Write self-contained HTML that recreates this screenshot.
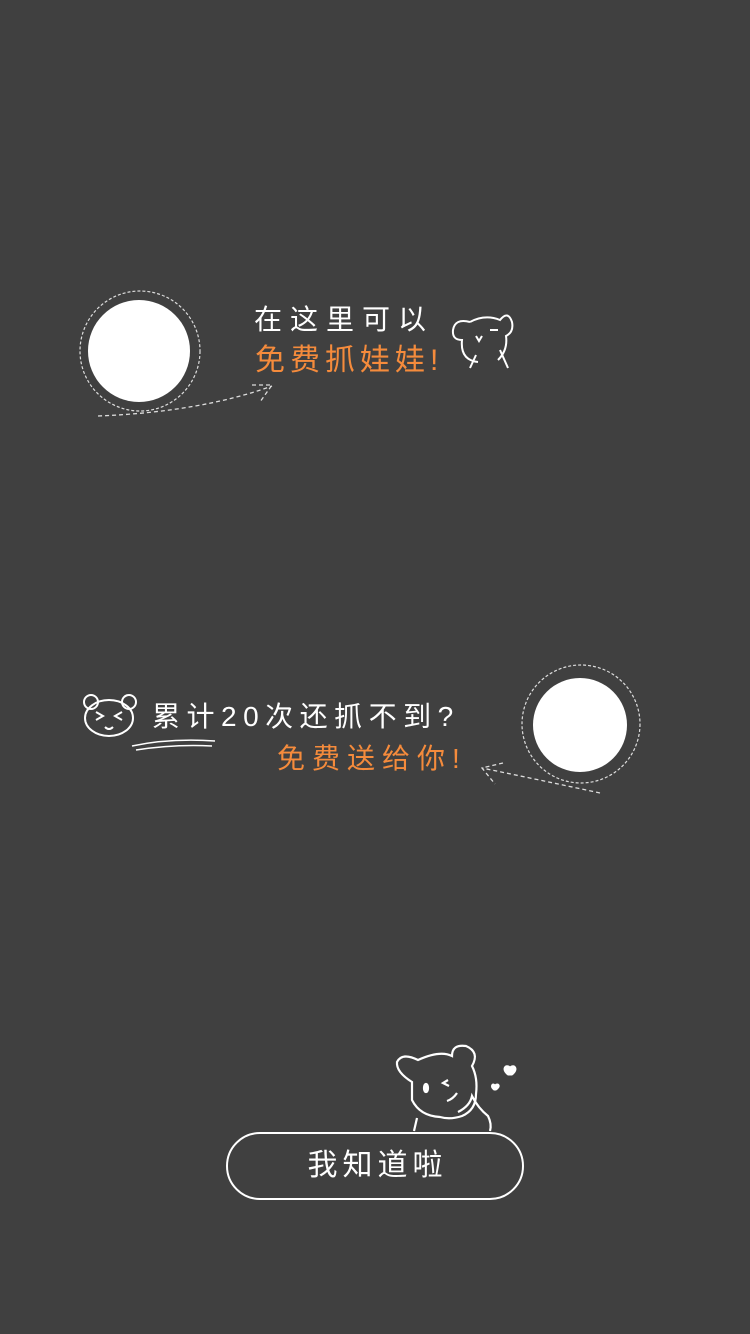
<!DOCTYPE html>
<html><head><meta charset="utf-8"><style>
body{margin:0;width:750px;height:1334px;background:#404040;position:relative;overflow:hidden;font-family:"Liberation Sans","WenQuanYi Zen Hei","Noto Sans CJK SC",sans-serif}
.t{position:absolute;white-space:nowrap;font-size:28px;line-height:34px}
.w{color:#fff}.o{color:#f58b3c}
</style></head><body>
<svg width="750" height="1334" style="position:absolute;left:0;top:0">
<g>
<circle cx="140" cy="351" r="60" fill="none" stroke="#ddd" stroke-width="1.2" stroke-dasharray="3 2"/>
<circle cx="139" cy="351" r="51" fill="#fff"/>
<path d="M98 416 Q200 412 272 386" fill="none" stroke="#ddd" stroke-width="1.3" stroke-dasharray="4 3"/>
<path d="M252 385 L272 385 L260 402" fill="none" stroke="#ddd" stroke-width="1.3" stroke-dasharray="4 3"/>
</g>
<g>
<circle cx="581" cy="724" r="59" fill="none" stroke="#ddd" stroke-width="1.2" stroke-dasharray="3 2"/>
<circle cx="580" cy="725" r="47" fill="#fff"/>
<path d="M600 793 Q540 780 482 768" fill="none" stroke="#ddd" stroke-width="1.3" stroke-dasharray="4 3"/>
<path d="M503 763 L482 768 L495 784" fill="none" stroke="#ddd" stroke-width="1.3" stroke-dasharray="4 3"/>
</g>
<g fill="none" stroke="#fff" stroke-width="2">
<path d="M470 322 Q455 318 453 330 Q452 340 462 340 Q460 360 478 362 M470 322 Q485 314 500 320 Q508 310 512 322 Q514 332 506 336 Q508 350 498 360 M470 368 L476 355 M508 368 L500 350"/>
<path d="M476 336 l3 5 l3-5 M490 330 h8"/>
</g>
<g fill="none" stroke="#fff" stroke-width="2">
<ellipse cx="109" cy="718" rx="24" ry="18"/>
<circle cx="91" cy="702" r="7"/><circle cx="129" cy="702" r="7"/>
<path d="M96 712 l7 4 l-7 4 M122 712 l-7 4 l7 4 M105 727 q4 4 8 0"/>
<path d="M132 746 Q170 738 215 741 M136 750 Q175 744 212 746" stroke-width="1.5"/>
</g>
<g fill="none" stroke="#fff" stroke-width="2.2">
<path d="M412 1082 Q396 1072 397 1062 Q402 1052 418 1060 Q440 1050 452 1056 Q452 1044 466 1046 Q480 1052 472 1066 Q478 1078 476 1094 Q476 1110 462 1116 Q450 1120 440 1117 Q420 1116 412 1100 Z"/>
<path d="M417 1118 L414 1131 M458 1112 Q470 1106 472 1096 Q478 1108 488 1116 Q492 1124 490 1131"/>
<ellipse cx="426" cy="1088" rx="2" ry="4" fill="#fff"/>
<path d="M448 1080 l-5 3 l6 3 M447 1101 q6-2 10-8"/>
<path d="M508 1075 c-8-6-2-12 2-8 c4-4 10 2 2 8 z M494 1090 c-5-4-1-8 1-5 c3-3 7 1 1 5 z" fill="#fff" stroke-width="1"/>
</g>
</svg>
<div class="t w" style="left:254px;top:303px;letter-spacing:8px">在这里可以</div>
<div class="t o" style="left:255px;top:344px;letter-spacing:5px;font-size:30px">免费抓娃娃!</div>
<div class="t w" style="left:152px;top:700px;letter-spacing:6.5px">累计20次还抓不到?</div>
<div class="t o" style="left:277px;top:742px;letter-spacing:7px">免费送给你!</div>
<div style="position:absolute;left:226px;top:1132px;width:294px;height:64px;border:2px solid #fff;border-radius:34px;color:#fff;font-size:30px;line-height:64px;text-align:center;letter-spacing:5px;text-indent:5px">我知道啦</div>
</body></html>
